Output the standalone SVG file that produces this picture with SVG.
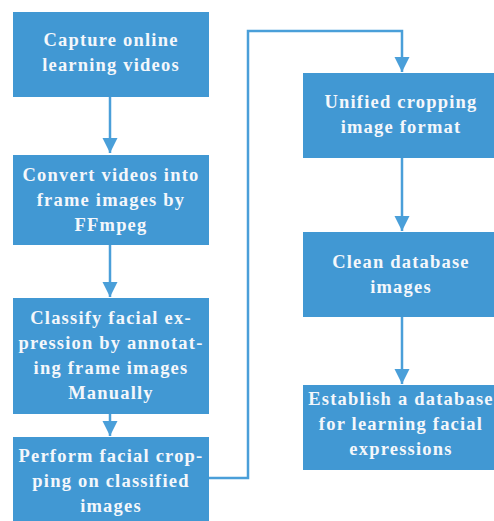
<svg xmlns="http://www.w3.org/2000/svg" width="494" height="521" viewBox="0 0 494 521">
<defs>
<style>
.box{fill:#4198d3;}
.t{font-family:"Liberation Serif","Times New Roman",serif;font-size:18.5px;font-weight:bold;fill:#f4f7fb;text-anchor:middle;letter-spacing:1.2px;}
.c{fill:none;stroke:#4a9fd9;stroke-width:2.5;}
</style>
<marker id="ah" markerUnits="userSpaceOnUse" markerWidth="18" markerHeight="18" viewBox="0 0 18 18" refX="15" refY="9" orient="auto">
<path d="M0,1.5 L15,9 L0,16.5 Z" fill="#4a9fd9"/>
</marker>
</defs>
<rect width="494" height="521" fill="#ffffff"/>
<g id="connectors">
<path class="c" d="M110,97 V153" marker-end="url(#ah)"/>
<path class="c" d="M110,245 V297" marker-end="url(#ah)"/>
<path class="c" d="M110,414 V436" marker-end="url(#ah)"/>
<path class="c" d="M209,478 H248 V31 H402 V72" marker-end="url(#ah)"/>
<path class="c" d="M402,158 V231" marker-end="url(#ah)"/>
<path class="c" d="M402,317 V384" marker-end="url(#ah)"/>
</g>
<g id="n1"><rect class="box" x="13" y="12" width="196" height="85"/>
<text class="t" x="111" y="46">Capture online</text><text class="t" x="111" y="71">learning videos</text></g>
<g id="n2"><rect class="box" x="13" y="155" width="196" height="90"/>
<text class="t" x="111" y="181">Convert videos into</text><text class="t" x="111" y="206">frame images by</text><text class="t" x="111" y="231">FFmpeg</text></g>
<g id="n3"><rect class="box" x="13" y="298" width="196" height="116"/>
<text class="t" x="111" y="324">Classify facial ex-</text><text class="t" x="111" y="349">pression by annotat-</text><text class="t" x="111" y="374">ing frame images</text><text class="t" x="111" y="399">Manually</text></g>
<g id="n4"><rect class="box" x="13" y="437" width="196" height="90"/>
<text class="t" x="111" y="462">Perform facial crop-</text><text class="t" x="111" y="487">ping on classified</text><text class="t" x="111" y="512">images</text></g>
<g id="n5"><rect class="box" x="303" y="73" width="196" height="85"/>
<text class="t" x="401" y="108">Unified cropping</text><text class="t" x="401" y="133">image format</text></g>
<g id="n6"><rect class="box" x="303" y="232" width="196" height="85"/>
<text class="t" x="401" y="268">Clean database</text><text class="t" x="401" y="293">images</text></g>
<g id="n7"><rect class="box" x="303" y="385" width="196" height="85"/>
<text class="t" x="401" y="405">Establish a database</text><text class="t" x="401" y="430">for learning facial</text><text class="t" x="401" y="455">expressions</text></g>
</svg>
